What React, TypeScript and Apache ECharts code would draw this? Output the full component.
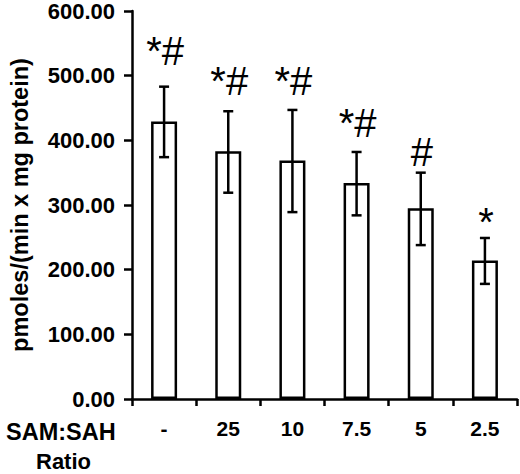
import React, { useEffect, useRef } from "react";
import * as echarts from "echarts";

const categories = ["-", "25", "10", "7.5", "5", "2.5"];
const means = [429, 383, 369, 334, 295, 214];
const errLow = [374, 319, 289, 284, 238, 178];
const errHigh = [483, 445, 447, 382, 350, 249];
const marks = ["*#", "*#", "*#", "*#", "#", "*"];
const markLevel = [516, 470, 470, 405, 359, 251];
const yTicks = { min: 0, max: 600, interval: 100 };

const FONT = "'Liberation Sans', Arial, Helvetica, sans-serif";
const MARK_FS = 40;

export default function App() {
  const ref = useRef<HTMLDivElement>(null);
  useEffect(() => {
    if (!ref.current) return;
    const chart = echarts.init(ref.current, undefined, { renderer: "svg" });
    const option: any = {
      animation: false,
      backgroundColor: "#ffffff",
      textStyle: { fontFamily: FONT },
      grid: { left: 120, right: 3, top: 11, bottom: 75, containLabel: false },
      xAxis: {
        type: "category",
        data: categories,
        boundaryGap: true,
        axisLine: { lineStyle: { color: "#000", width: 2.5 } },
        axisTick: { show: true, length: 7, inside: false, interval: 0, lineStyle: { color: "#000", width: 2.5 } },
        axisLabel: { color: "#000", fontSize: 21, fontWeight: "bold", fontFamily: FONT, margin: 19, interval: 0 },
      },
      yAxis: {
        type: "value",
        min: yTicks.min,
        max: yTicks.max,
        interval: yTicks.interval,
        name: "pmoles/(min x mg protein)",
        nameLocation: "middle",
        nameGap: 100,
        nameTextStyle: { color: "#000", fontSize: 23.5, fontWeight: "bold", fontFamily: FONT },
        splitLine: { show: false },
        axisLine: { show: true, lineStyle: { color: "#000", width: 2.5 } },
        axisTick: { show: true, length: 8, inside: false, lineStyle: { color: "#000", width: 2.5 } },
        axisLabel: {
          color: "#000",
          fontSize: 22,
          fontWeight: "bold",
          fontFamily: FONT,
          margin: 17,
          formatter: (v: number) => v.toFixed(2),
        },
      },
      series: [
        {
          type: "bar",
          data: means,
          barWidth: 26,
          itemStyle: { color: "#ffffff", borderColor: "#000", borderWidth: 2.5 },
          z: 2,
        },
        {
          type: "custom",
          data: categories.map((_, i) => [i, errLow[i], errHigh[i]]),
          z: 3,
          renderItem: (params: any, api: any) => {
            const i = api.value(0);
            const lo = api.coord([i, api.value(1)]);
            const hi = api.coord([i, api.value(2)]);
            const hw = 5;
            const st = { stroke: "#000", lineWidth: 2.5 };
            return {
              type: "group",
              children: [
                { type: "line", shape: { x1: hi[0], y1: hi[1], x2: lo[0], y2: lo[1] }, style: st },
                { type: "line", shape: { x1: hi[0] - hw, y1: hi[1], x2: hi[0] + hw, y2: hi[1] }, style: st },
                { type: "line", shape: { x1: lo[0] - hw, y1: lo[1], x2: lo[0] + hw, y2: lo[1] }, style: st },
              ],
            };
          },
        },
        {
          type: "custom",
          data: categories.map((_, i) => [i, markLevel[i]]),
          z: 4,
          renderItem: (params: any, api: any) => {
            const i = api.value(0);
            const p = api.coord([i, api.value(1)]);
            return {
              type: "text",
              x: p[0] + 1,
              y: p[1] + MARK_FS * 0.14,
              style: {
                text: marks[params.dataIndex],
                fontSize: MARK_FS,
                fontFamily: FONT,
                fill: "#000",
                align: "center",
                verticalAlign: "bottom",
              },
            };
          },
        },
      ],
      graphic: [
        {
          type: "text",
          left: 6,
          top: 420,
          style: { text: "SAM:SAH", fontSize: 23.5, fontWeight: "bold", fontFamily: FONT, fill: "#000" },
        },
        {
          type: "text",
          left: 36,
          top: 450,
          style: { text: "Ratio", fontSize: 22, fontWeight: "bold", fontFamily: FONT, fill: "#000" },
        },
      ],
    };
    chart.setOption(option);
    return () => chart.dispose();
  }, []);
  return (
    <div
      ref={ref}
      style={{ position: "fixed", left: 0, top: 0, width: 520, height: 474, background: "#fff" }}
    />
  );
}
